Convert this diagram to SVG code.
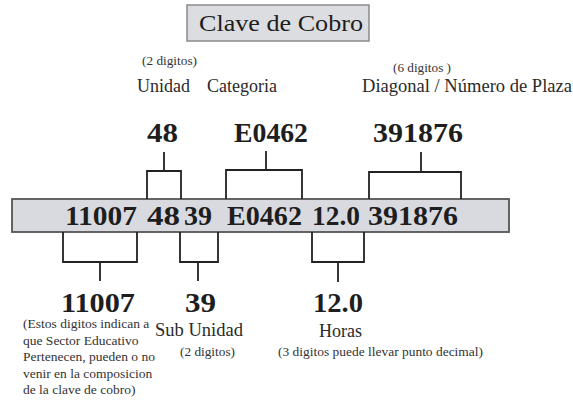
<svg xmlns="http://www.w3.org/2000/svg" width="573" height="400" viewBox="0 0 573 400">
<style>
  text { font-family: "Liberation Serif", "DejaVu Serif", serif; fill: #1e1e1e; }
  .big { font-size: 27px; font-weight: bold; }
  .lbl { font-size: 18px; fill: #2a2a2a; }
  .sm { font-size: 13.5px; fill: #333; }
  .br { fill: none; stroke: #222; stroke-width: 1.8; }
</style>
<rect width="573" height="400" fill="#ffffff"/>

<g id="title">
  <rect x="187" y="5" width="182" height="36" fill="#dcdde1" stroke="#8a8a8a" stroke-width="1.5"/>
  <text x="199" y="31" style="font-size:24px" textLength="164" lengthAdjust="spacingAndGlyphs">Clave de Cobro</text>
</g>

<g id="bar">
  <rect x="12" y="199" width="497" height="33" fill="#d9dadf" stroke="#555" stroke-width="1.8"/>
  <text class="big" x="65" y="225" textLength="72" lengthAdjust="spacingAndGlyphs">11007</text>
  <text class="big" x="147" y="225" textLength="33" lengthAdjust="spacingAndGlyphs">48</text>
  <text class="big" x="184" y="225" textLength="28" lengthAdjust="spacingAndGlyphs">39</text>
  <text class="big" x="227" y="225" textLength="75" lengthAdjust="spacingAndGlyphs">E0462</text>
  <text class="big" x="312" y="225" textLength="48" lengthAdjust="spacingAndGlyphs">12.0</text>
  <text class="big" x="368" y="225" textLength="90" lengthAdjust="spacingAndGlyphs">391876</text>
</g>

<g id="connectors">
  <path class="br" d="M147,199 V171 H181 V199 M164,171 V152"/>
  <path class="br" d="M226,199 V170 H302 V199 M266,170 V151"/>
  <path class="br" d="M369,199 V172 H461 V199 M421,172 V152"/>
  <path class="br" d="M63,232 V262 H137 V232 M100,262 V281"/>
  <path class="br" d="M180,232 V262 H218 V232 M198,262 V281"/>
  <path class="br" d="M312,232 V262 H364 V232 M338,262 V282"/>
</g>

<g id="unidad">
  <text class="sm" x="142" y="65" textLength="55" lengthAdjust="spacingAndGlyphs">(2 digitos)</text>
  <text class="lbl" x="137" y="92" textLength="53" lengthAdjust="spacingAndGlyphs">Unidad</text>
  <text class="big" x="147" y="142" textLength="31" lengthAdjust="spacingAndGlyphs">48</text>
</g>

<g id="categoria">
  <text class="lbl" x="207" y="92" textLength="70" lengthAdjust="spacingAndGlyphs">Categoria</text>
  <text class="big" x="234" y="142" textLength="74" lengthAdjust="spacingAndGlyphs">E0462</text>
</g>

<g id="plaza">
  <text class="sm" x="393" y="72" textLength="58" lengthAdjust="spacingAndGlyphs">(6 digitos )</text>
  <text class="lbl" x="362" y="92" textLength="210" lengthAdjust="spacingAndGlyphs">Diagonal / Número de Plaza</text>
  <text class="big" x="373" y="142" textLength="90" lengthAdjust="spacingAndGlyphs">391876</text>
</g>

<g id="sector">
  <text class="big" x="61" y="312" textLength="74" lengthAdjust="spacingAndGlyphs">11007</text>
  <text class="sm" x="23" y="328">(Estos digitos indican a</text>
  <text class="sm" x="23" y="345">que Sector Educativo</text>
  <text class="sm" x="23" y="361">Pertenecen, pueden o no</text>
  <text class="sm" x="23" y="378">venir en la composicion</text>
  <text class="sm" x="23" y="394">de la clave de cobro)</text>
</g>

<g id="subunidad">
  <text class="big" x="185" y="312" textLength="31" lengthAdjust="spacingAndGlyphs">39</text>
  <text class="lbl" x="155" y="336" textLength="88" lengthAdjust="spacingAndGlyphs">Sub Unidad</text>
  <text class="sm" x="180" y="356" textLength="55" lengthAdjust="spacingAndGlyphs">(2 digitos)</text>
</g>

<g id="horas">
  <text class="big" x="313" y="312" textLength="50" lengthAdjust="spacingAndGlyphs">12.0</text>
  <text class="lbl" x="319" y="337" textLength="43" lengthAdjust="spacingAndGlyphs">Horas</text>
  <text class="sm" x="278" y="356" textLength="205" lengthAdjust="spacingAndGlyphs">(3 digitos  puede llevar punto decimal)</text>
</g>
</svg>
